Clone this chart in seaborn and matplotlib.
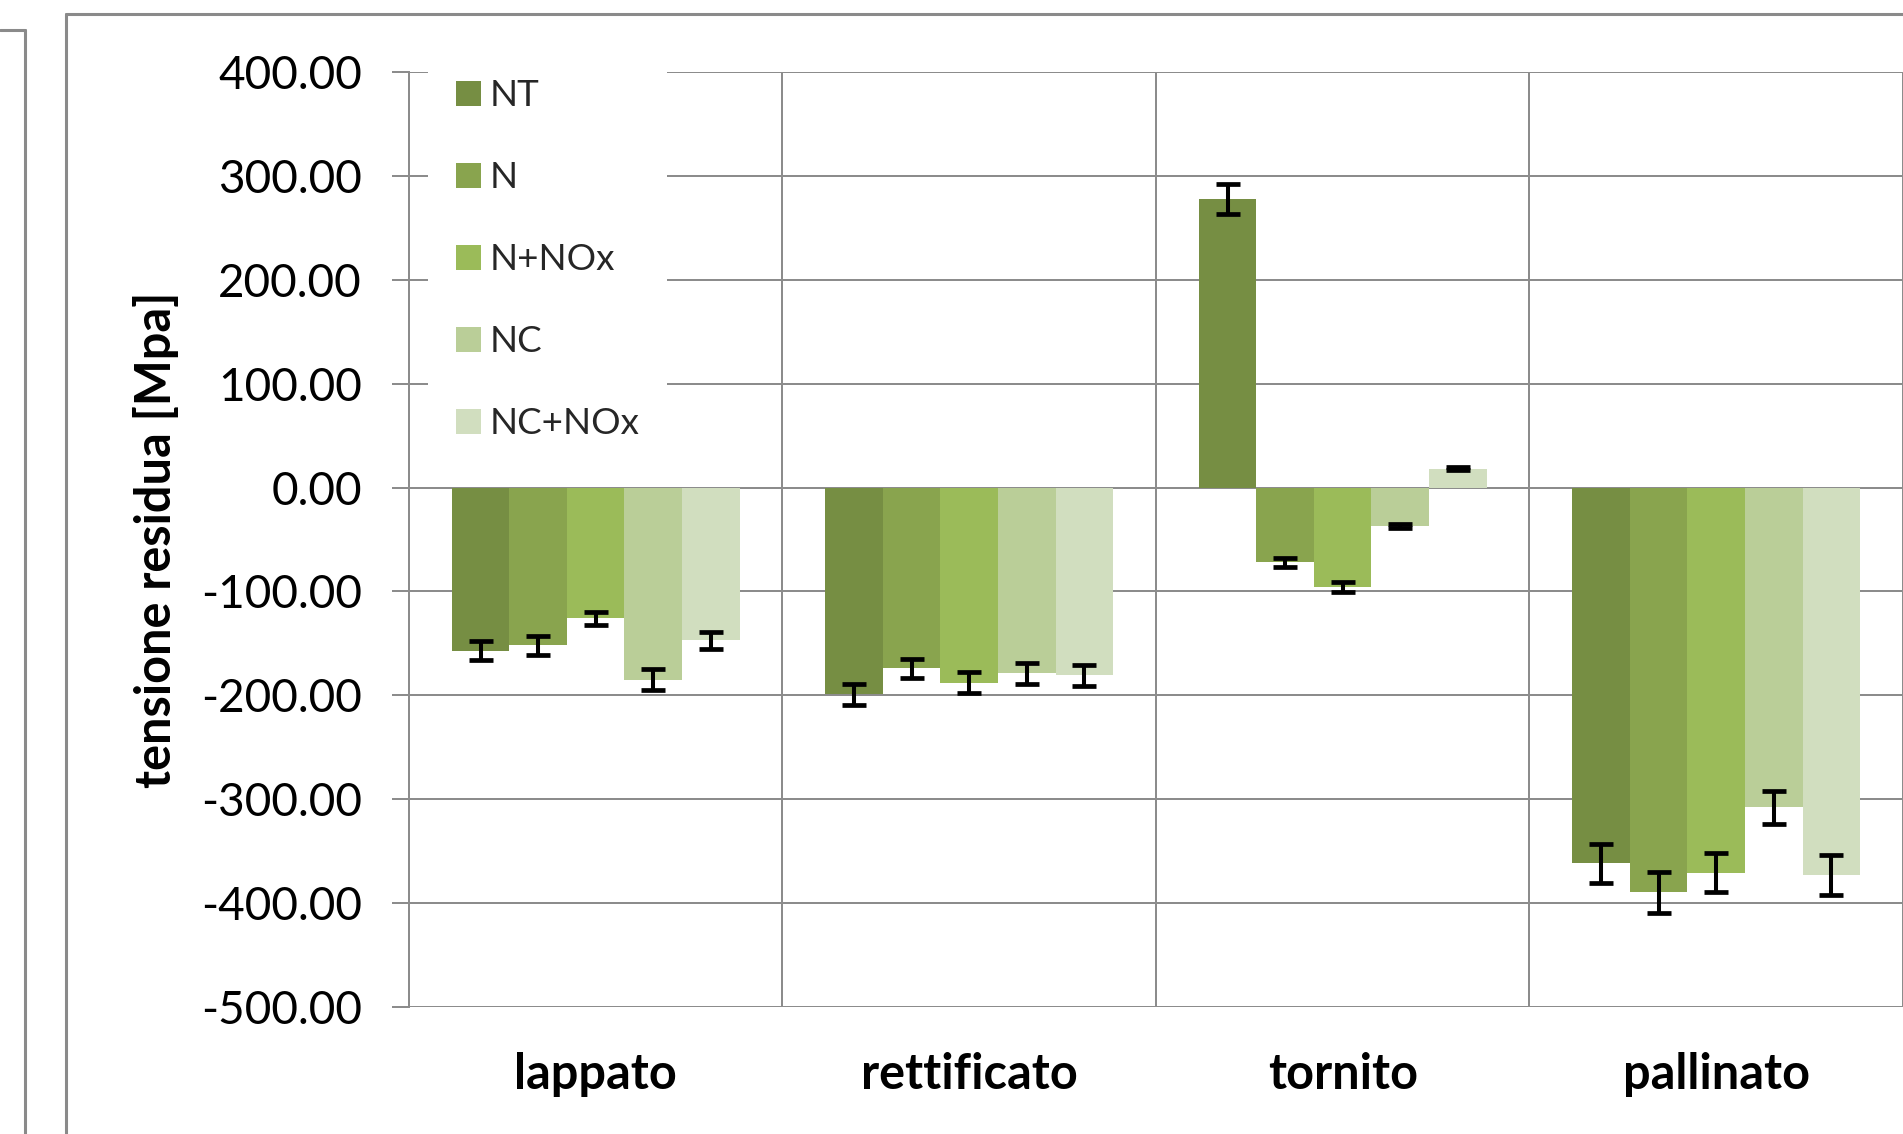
import matplotlib
matplotlib.use("Agg")
import matplotlib.pyplot as plt
import seaborn as sns
import pandas as pd
from matplotlib.lines import Line2D

# Residual stress by surface finish and nitriding treatment
categories = ["lappato", "rettificato", "tornito", "pallinato"]
series = ["NT", "N", "N+NOx", "NC", "NC+NOx"]

nt_vals = [-157, -199, 278, -362]
n_vals = [-152, -174, -72, -390]
nnox_vals = [-126, -188, -96, -371]
nc_vals = [-185, -179, -37, -308]
ncnox_vals = [-147, -181, 18, -373]

nt_err = [9, 10, 14, 19]
n_err = [9, 9, 4.5, 20]
nnox_err = [6.5, 10, 5, 19]
nc_err = [10, 10.5, 1.5, 16]
ncnox_err = [8, 10.5, 1.5, 19]

colors = ["#768E43", "#89A44E", "#9BBB59", "#BACE98", "#D1DEBF"]
yticks = [400, 300, 200, 100, 0, -100, -200, -300, -400, -500]

values = {"NT": nt_vals, "N": n_vals, "N+NOx": nnox_vals, "NC": nc_vals, "NC+NOx": ncnox_vals}
errors = {"NT": nt_err, "N": n_err, "N+NOx": nnox_err, "NC": nc_err, "NC+NOx": ncnox_err}

rows = []
for s in series:
    for c, v in zip(categories, values[s]):
        rows.append({"trattamento": c, "serie": s, "tensione": v})
df = pd.DataFrame(rows)

sns.set_style("white")
plt.rcParams["font.family"] = ["Lato", "DejaVu Sans"]

GRID = "#8c8c8c"
fig = plt.figure(figsize=(19.03, 11.34), dpi=100)
ax = fig.add_axes([0.2149, 0.1123, 0.7851, 0.8239])

sns.barplot(data=df, x="trattamento", y="tensione", hue="serie",
            order=categories, hue_order=series, palette=colors,
            width=0.77, errorbar=None, saturation=1, linewidth=0, ax=ax)

# error bars at the centre of each bar
for cont, s in zip(ax.containers, series):
    xs = [p.get_x() + p.get_width() / 2 for p in cont]
    ax.errorbar(xs, values[s], yerr=errors[s], fmt="none", ecolor="black",
                elinewidth=2.9, capsize=8.8, capthick=3.4, zorder=5)

ax.set_xlim(-0.5, 3.5)
ax.set_ylim(-500, 400)
ax.set_yticks(yticks)
ax.set_yticklabels([f"{v:.2f}" for v in yticks])
ax.set_xticks([-0.5, 0.5, 1.5, 2.5, 3.5], minor=True)

ax.set_axisbelow(True)
ax.grid(axis="y", which="major", color=GRID, lw=1.44)
ax.grid(axis="x", which="major", visible=False)
ax.grid(axis="x", which="minor", color=GRID, lw=1.44)

for side in ["top", "right", "bottom"]:
    ax.spines[side].set_visible(False)
ax.spines["left"].set_color(GRID)
ax.spines["left"].set_linewidth(1.44)

ax.tick_params(axis="y", which="major", length=12.2, width=1.44, color=GRID,
               direction="out", pad=21.6, labelsize=33, labelcolor="black", left=True)
ax.tick_params(axis="x", which="both", length=0, pad=33, labelsize=35, labelcolor="black")
for lbl in ax.get_xticklabels():
    lbl.set_fontweight("bold")

ax.set_xlabel("")
ax.set_ylabel("tensione residua [Mpa]", fontsize=35, fontweight="bold", color="black")
ax.yaxis.set_label_coords(-0.154, 0.5)

handles, labels = ax.get_legend_handles_labels()
ax.legend(handles, labels, loc="upper left", bbox_to_anchor=(0.0127, 1.022),
          frameon=True, facecolor="white", edgecolor="none", framealpha=1,
          fontsize=26.5, handlelength=0.68, handleheight=0.65, handletextpad=0.25,
          labelspacing=1.33, borderpad=0.75, borderaxespad=0, fancybox=False)

# chart-area frames
W, H = 1903.0, 1134.0
def fline(x0, y0, x1, y1):
    fig.add_artist(Line2D([x0 / W, x1 / W], [1 - y0 / H, 1 - y1 / H],
                          transform=fig.transFigure, color="#8a8a8a", lw=2.2))

fline(0, 30, 25, 30)
fline(25, 30, 25, 1134)
fline(66, 14, 1903, 14)
fline(66, 14, 66, 1134)

fig.savefig("out.png", dpi=100)
